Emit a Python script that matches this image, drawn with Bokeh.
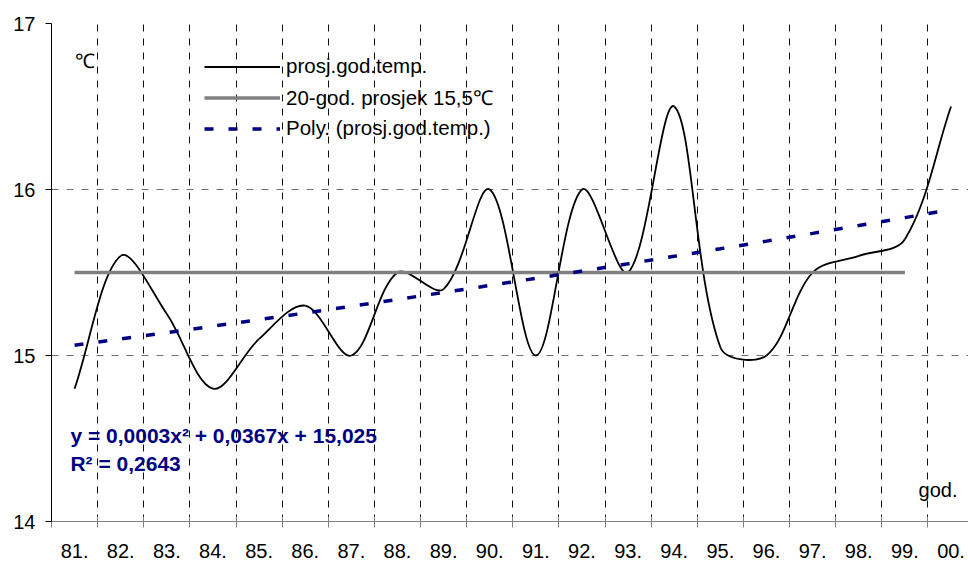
import numpy as np
from bokeh.plotting import figure
from bokeh.models import (ColumnDataSource, FixedTicker, Legend, LegendItem, Label, Range1d)
from bokeh.embed import file_html
from bokeh.resources import INLINE

# ---- data ----
year_labels = ["81.", "82.", "83.", "84.", "85.", "86.", "87.", "88.", "89.", "90.",
               "91.", "92.", "93.", "94.", "95.", "96.", "97.", "98.", "99.", "00."]
mean_temp = [14.8, 15.6, 15.25, 14.8, 15.1, 15.3, 15.0, 15.5, 15.4, 16.0,
             15.0, 16.0, 15.5, 16.5, 15.05, 15.0, 15.5, 15.6, 15.7, 16.5]
avg_20y = [15.5] * 19          # drawn for 81. .. 99.
poly_a, poly_b, poly_c = 0.0003, 0.0367, 15.025
y_ticks = [14, 15, 16, 17]

FONT = "Liberation Sans"
n = len(year_labels)
xc = np.arange(n) + 0.5

# ---- figure ----
W, H = 968, 561
px_per_cat = 46.13
px_per_deg = 166.0
frame_left = 51
x_end = (W - frame_left) / px_per_cat

p = figure(width=W, height=H, output_backend="svg", toolbar_location=None,
           x_range=Range1d(0, x_end), y_range=Range1d(14, 17),
           min_border_left=frame_left, min_border_right=0, min_border_top=23,
           min_border_bottom=40)
p.outline_line_color = None
p.background_fill_color = "white"

# axes
p.xaxis.ticker = FixedTicker(ticks=list(xc), minor_ticks=list(range(0, n)))
p.xaxis.major_label_overrides = {float(x): lab for x, lab in zip(xc, year_labels)}
p.xaxis.major_tick_line_color = None
p.xaxis.major_tick_out = 0
p.xaxis.major_tick_in = 0
p.xaxis.minor_tick_line_color = "#808080"
p.xaxis.minor_tick_in = 5
p.xaxis.minor_tick_out = 6
p.xaxis.axis_line_color = "#808080"
p.xaxis.major_label_standoff = 16
p.xaxis.major_label_text_font = FONT
p.xaxis.major_label_text_font_size = "20px"
p.xaxis.major_label_text_color = "black"

p.yaxis.ticker = FixedTicker(ticks=y_ticks)
p.yaxis.minor_tick_line_color = None
p.yaxis.major_tick_out = 6
p.yaxis.major_tick_in = 0
p.yaxis.axis_line_color = "black"
p.yaxis.major_tick_line_color = "black"
p.yaxis.major_label_standoff = 10
p.yaxis.major_label_text_font = FONT
p.yaxis.major_label_text_font_size = "20px"
p.yaxis.major_label_text_color = "black"

# grids
p.xgrid.ticker = FixedTicker(ticks=list(range(1, n)))
p.xgrid.grid_line_color = "#101010"
p.xgrid.grid_line_dash = "7 7"
p.xgrid.grid_line_width = 1
p.ygrid.ticker = FixedTicker(ticks=[15, 16, 17])
p.ygrid.grid_line_color = "#707070"
p.ygrid.grid_line_dash = "7 8"
p.ygrid.grid_line_width = 1

# smoothed data line: Bezier segments through the data points, with control
# handles scaled by the on-screen lengths of the neighbouring segments
yv = np.array(mean_temp)
sx = xc * px_per_cat
sy = yv * px_per_deg
tx = np.zeros(n); ty = np.zeros(n)
before = np.zeros(n); after = np.zeros(n)
for i in range(n):
    ip = max(i - 1, 0); inx = min(i + 1, n - 1)
    tx[i] = sx[inx] - sx[ip]; ty[i] = sy[inx] - sy[ip]
    lb = np.hypot(sx[i] - sx[ip], sy[i] - sy[ip])
    la = np.hypot(sx[inx] - sx[i], sy[inx] - sy[i])
    tot = lb + la
    before[i] = lb / tot / 3.0 if tot else 0
    after[i] = la / tot / 3.0 if tot else 0
c0x = (sx[:-1] + tx[:-1] * after[:-1]) / px_per_cat
c0y = (sy[:-1] + ty[:-1] * after[:-1]) / px_per_deg
c1x = (sx[1:] - tx[1:] * before[1:]) / px_per_cat
c1y = (sy[1:] - ty[1:] * before[1:]) / px_per_deg
bsrc = ColumnDataSource(dict(x0=xc[:-1], y0=yv[:-1], x1=xc[1:], y1=yv[1:],
                             cx0=c0x, cy0=c0y, cx1=c1x, cy1=c1y))
r_data = p.bezier(x0="x0", y0="y0", x1="x1", y1="y1", cx0="cx0", cy0="cy0",
                  cx1="cx1", cy1="cy1", source=bsrc, line_color="black", line_width=1.8)

# 20-year average
r_avg = p.line(xc[:len(avg_20y)], avg_20y, line_color="#808080", line_width=3.5)

# polynomial trend
xi = np.arange(1, n + 1)
trend = poly_a * xi ** 2 + poly_b * xi + poly_c
r_trend = p.line(xc, trend, line_color="#000080", line_width=3.5, line_dash="9 15")

legend = Legend(items=[
    LegendItem(label="prosj.god.temp.", renderers=[r_data]),
    LegendItem(label="20-god. prosjek 15,5\u2103", renderers=[r_avg]),
    LegendItem(label="Poly. (prosj.god.temp.)", renderers=[r_trend]),
], location=(153, 381))
legend.glyph_width = 76
legend.glyph_height = 23
legend.label_height = 23
legend.label_standoff = 6
legend.spacing = 5
legend.padding = 0
legend.margin = 0
legend.border_line_color = None
legend.background_fill_alpha = 0
legend.label_text_font = FONT
legend.label_text_font_size = "20.5px"
legend.label_text_color = "black"
p.add_layout(legend, "center")

# texts
p.add_layout(Label(x=0.5, y=16.777, text="\u2103", text_font=FONT, text_font_size="20px",
                   text_color="black", text_baseline="alphabetic"))
p.add_layout(Label(x=0.41, y=14.518, text="y = 0,0003x\u00b2 + 0,0367x + 15,025",
                   text_font=FONT, text_font_size="21px", text_font_style="bold",
                   text_color="#000080", text_baseline="alphabetic"))
p.add_layout(Label(x=0.41, y=14.347, text="R\u00b2 = 0,2643",
                   text_font=FONT, text_font_size="21px", text_font_style="bold",
                   text_color="#000080", text_baseline="alphabetic"))
p.add_layout(Label(x=18.795, y=14.187, text="god.", text_font=FONT, text_font_size="20px",
                   text_color="black", text_baseline="alphabetic"))

open("out.html", "w").write(file_html(p, INLINE))
